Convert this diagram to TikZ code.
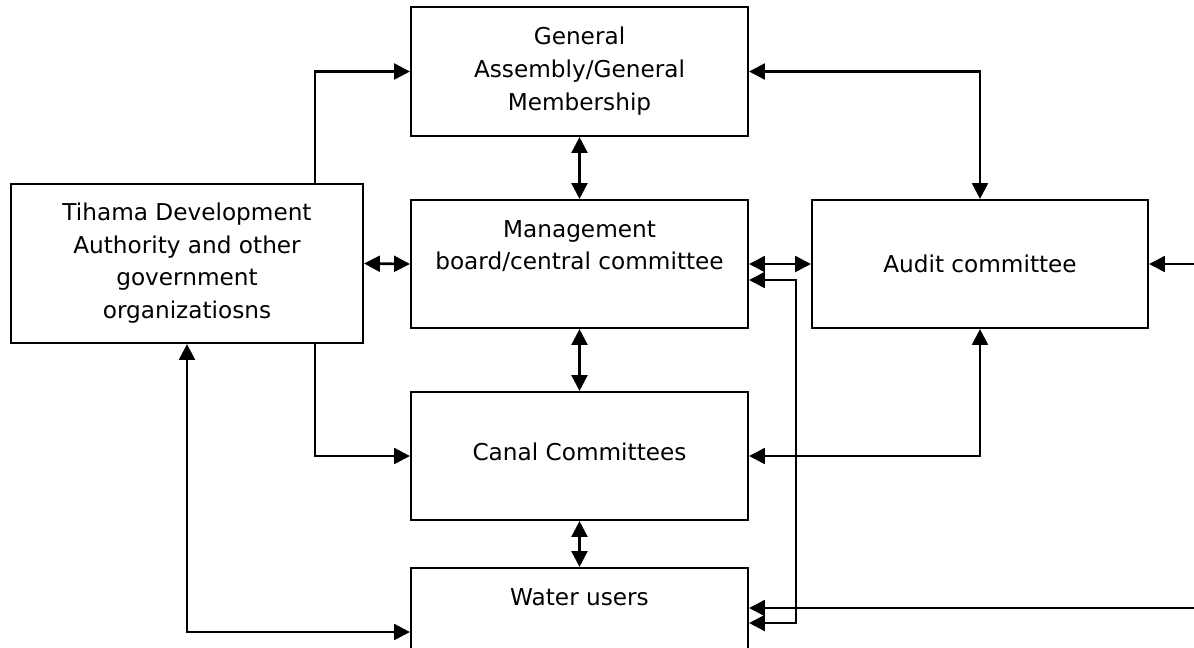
\documentclass[tikz,border=0pt]{standalone}
\usepackage{fontspec}
\setmainfont{DejaVu Sans}
\usetikzlibrary{
  arrows.meta,
  fit,
  calc
}
\tikzset{
  orgbox/.style={
    draw, line width=1.2pt, inner sep=0pt
  },
  orgtext/.style={
    inner sep=0pt, align=center,
    font=\fontsize{13.2pt}{18.6pt}\selectfont
  },
  link/.style={line width=1.5pt},
  oneway/.style={link, -{Triangle[length=9pt,width=9pt]}},
  twoway/.style={link, {Triangle[length=9pt,width=9pt]}-{Triangle[length=9pt,width=9pt]}}
}

\begin{document}
\begin{tikzpicture}[x=0.02cm, y=-0.02cm]
\useasboundingbox (0,0) rectangle (1194,647);
\clip (0,0) rectangle (1194,647);

% boxes
\node[orgbox, fit={(411,7) (748,136)}] (ga) {};
\node[orgbox, fit={(11,184) (363,343)}] (tda) {};
\node[orgbox, fit={(411,200) (748,328)}] (mgmt) {};
\node[orgbox, fit={(812,200) (1148,328)}] (audit) {};
\node[orgbox, fit={(411,392) (748,520)}] (canal) {};
\node[orgbox, fit={(411,568) (748,696)}] (water) {};

% texts
\node[orgtext] (gatext) at (579.5,71) {General\\Assembly/General\\Membership};
\node[orgtext] (tdatext) at (187,263) {Tihama Development\\Authority and other\\government\\organizatiosns};
\node[orgtext] (mgmttext) at (579.5,246) {Management\\board/central committee};
\node[orgtext] (audittext) at (980,264) {Audit committee};
\node[orgtext] (canaltext) at (579.5,452) {Canal Committees};
\node[orgtext] (watertext) at (579.5,597) {Water users};

% routes
\coordinate (tdaR) at (315,0);
\coordinate (bus) at (796,0);
\coordinate (rim) at (1194,0);

% connectors
\draw[oneway] (tda.north -| tdaR) |- (ga.west);
\draw[twoway] (ga.east) -| (audit.north);
\draw[twoway] (ga.south) -- (mgmt.north);
\draw[twoway] (tda.east) -- (mgmt.west);
\draw[twoway] (mgmt.east) -- (audit.west);
\draw[oneway] (rim |- audit.east) -- (audit.east);
\draw[twoway] (mgmt.south) -- (canal.north);
\draw[oneway] (tda.south -| tdaR) |- (canal.west);
\draw[twoway] (canal.east) -| (audit.south);
\draw[twoway] (canal.south) -- (water.north);
\draw[twoway] (tda.south) |- (water.west);
\draw[twoway] ($(mgmt.east)+(0,16)$) -| ($(bus |- water.east)+(0,-9)$) -- ($(water.east)+(0,-9)$);
\draw[oneway] ($(rim |- water.east)+(0,-24)$) -- ($(water.east)+(0,-24)$);
\end{tikzpicture}
\end{document}
